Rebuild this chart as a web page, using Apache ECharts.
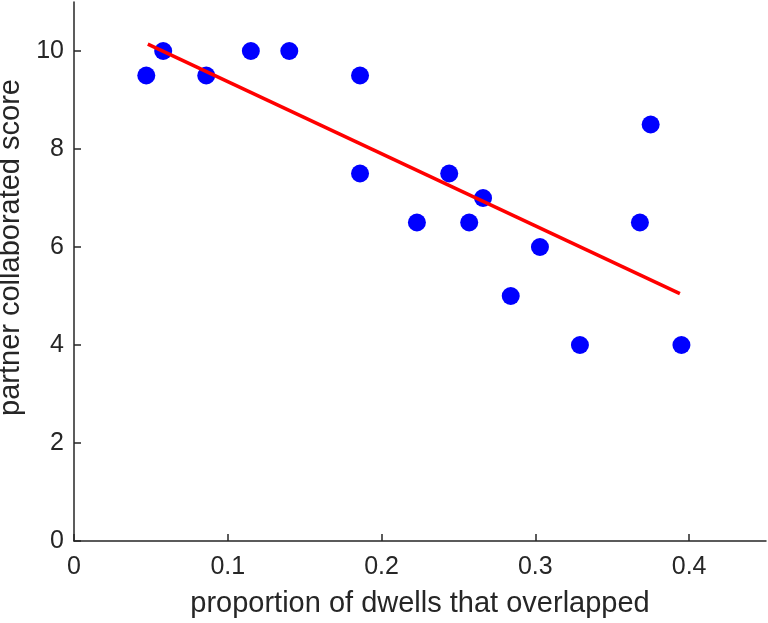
<!DOCTYPE html>
<html>
<head>
<meta charset="utf-8">
<script src="https://cdn.jsdelivr.net/npm/echarts@6/dist/echarts.min.js"></script>
<style>html,body{margin:0;padding:0;background:#fff}#c{width:768px;height:623px}</style>
</head>
<body>
<div id="c"></div>
<script>
var proportion = [0.047, 0.058, 0.086, 0.115, 0.140, 0.186, 0.186, 0.223, 0.244, 0.257, 0.266, 0.284, 0.303, 0.329, 0.368, 0.375, 0.395];
var score = [9.5, 10, 9.5, 10, 10, 9.5, 7.5, 6.5, 7.5, 6.5, 7, 5, 6, 4, 6.5, 8.5, 4];
var fitX = [0.048, 0.394];
var fitY = [10.14, 5.05];
var xTicks = [0, 0.1, 0.2, 0.3, 0.4];
var yTicks = [0, 2, 4, 6, 8, 10];
var xTitle = 'proportion of dwells that overlapped';
var yTitle = 'partner collaborated score';

var font = '"Liberation Sans", Arial, Helvetica, sans-serif';
var ink = '#262626';
var chart = echarts.init(document.getElementById('c'), null, {renderer: 'canvas'});
chart.setOption({
  animation: false,
  backgroundColor: '#fff',
  grid: {left: 74, right: 2, top: 2, bottom: 82, containLabel: false, outerBoundsMode: 'none'},
  xAxis: {
    type: 'value', min: 0, max: 0.45,
    name: xTitle, nameLocation: 'middle', nameGap: 48,
    nameTextStyle: {fontFamily: font, fontSize: 29, color: ink},
    axisLine: {show: true, lineStyle: {color: ink, width: 1.5}},
    axisTick: {show: true, inside: true, length: 7, customValues: xTicks, lineStyle: {color: ink, width: 1.5}},
    axisLabel: {customValues: xTicks, margin: 14, fontFamily: font, fontSize: 25, color: ink},
    splitLine: {show: false}
  },
  yAxis: {
    type: 'value', min: 0, max: 11,
    name: yTitle, nameLocation: 'middle', nameGap: 40, nameRotate: 90,
    nameTextStyle: {fontFamily: font, fontSize: 29, color: ink, padding: [0, 0, 0, 48]},
    axisLine: {show: true, lineStyle: {color: ink, width: 1.5}},
    axisTick: {show: true, inside: true, length: 7, customValues: yTicks, lineStyle: {color: ink, width: 1.5}},
    axisLabel: {customValues: yTicks, margin: 10, fontFamily: font, fontSize: 25, color: ink},
    splitLine: {show: false}
  },
  series: [
    {
      type: 'scatter',
      data: proportion.map(function (x, i) { return [x, score[i]]; }),
      symbol: 'circle', symbolSize: 18,
      itemStyle: {color: '#0000FF', opacity: 1},
      z: 2
    },
    {
      type: 'line',
      data: fitX.map(function (x, i) { return [x, fitY[i]]; }),
      showSymbol: false, symbol: 'none',
      lineStyle: {color: '#FF0000', width: 3.5},
      z: 3
    }
  ]
});
</script>
</body>
</html>
